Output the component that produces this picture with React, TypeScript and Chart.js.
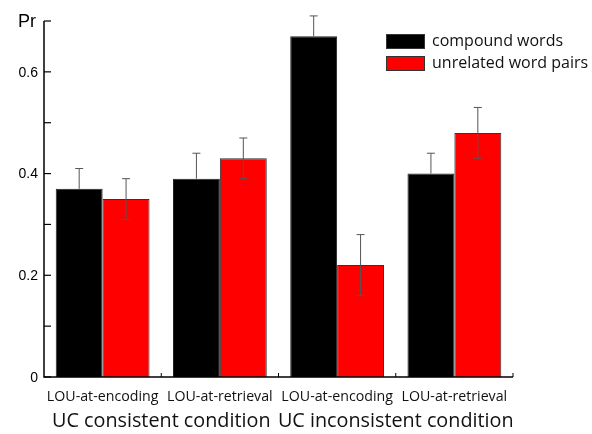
import React, { useEffect, useRef } from "react";
import { Chart, registerables } from "chart.js";

Chart.register(...registerables);

const categories = ["LOU-at-encoding", "LOU-at-retrieval", "LOU-at-encoding", "LOU-at-retrieval"];
const groupLabels = ["UC consistent condition", "UC inconsistent condition"];
const seriesNames = ["compound words", "unrelated word pairs"];
const compoundValues = [0.37, 0.39, 0.67, 0.40];
const compoundErrors = [0.04, 0.05, 0.04, 0.04];
const unrelatedValues = [0.35, 0.43, 0.22, 0.48];
const unrelatedErrors = [0.04, 0.04, 0.06, 0.05];
const yTickValues = [0, 0.1, 0.2, 0.3, 0.4, 0.5, 0.6, 0.7];
const yTickLabels = ["0", "", "0.2", "", "0.4", "", "0.6", ""];
const yTitle = "Pr";

const errorsByDataset = [compoundErrors, unrelatedErrors];
const TEXT_FONT = "'Open Sans', 'Noto Sans', sans-serif";

const customPlugin = {
  id: "custom",
  afterDatasetsDraw(chart: any) {
    const ctx = chart.ctx;
    const y = chart.scales.y;
    chart.data.datasets.forEach((ds: any, di: number) => {
      const meta = chart.getDatasetMeta(di);
      meta.data.forEach((bar: any, i: number) => {
        const v = ds.data[i];
        const e = errorsByDataset[di][i];
        const x = bar.x;
        const yTop = y.getPixelForValue(v + e);
        const yMid = y.getPixelForValue(v);
        const yBot = y.getPixelForValue(v - e);
        ctx.save();
        ctx.lineWidth = 1;
        ctx.strokeStyle = "#555";
        ctx.beginPath();
        ctx.moveTo(x, yMid);
        ctx.lineTo(x, yTop);
        ctx.moveTo(x - 4, yTop);
        ctx.lineTo(x + 4, yTop);
        ctx.stroke();
        if (di === 1) {
          ctx.beginPath();
          ctx.moveTo(x, yMid);
          ctx.lineTo(x, yBot);
          ctx.moveTo(x - 4, yBot);
          ctx.lineTo(x + 4, yBot);
          ctx.stroke();
        }
        ctx.restore();
      });
    });
  },
  afterDraw(chart: any) {
    const ctx = chart.ctx;
    const area = chart.chartArea;
    const y = chart.scales.y;
    const x = chart.scales.x;
    ctx.save();
    ctx.strokeStyle = "#000";
    ctx.lineWidth = 1.5;
    const y0 = y.getPixelForValue(0);
    const yMax = y.getPixelForValue(0.7);
    ctx.beginPath();
    ctx.moveTo(area.left, yMax);
    ctx.lineTo(area.left, y0);
    ctx.lineTo(area.right, y0);
    ctx.stroke();
    ctx.lineWidth = 1.2;
    ctx.fillStyle = "#000";
    ctx.font = "14px 'Liberation Sans', Arial, sans-serif";
    ctx.textAlign = "right";
    ctx.textBaseline = "middle";
    yTickValues.forEach((v, i) => {
      const py = y.getPixelForValue(v);
      ctx.beginPath();
      ctx.moveTo(area.left, py);
      ctx.lineTo(area.left + 7, py);
      ctx.stroke();
      if (yTickLabels[i]) ctx.fillText(yTickLabels[i], area.left - 6, py + 1);
    });
    ctx.font = "18px 'Liberation Sans', Arial, sans-serif";
    ctx.fillText(yTitle, area.left - 8, yMax + 1);
    const n = categories.length;
    const catW = (area.right - area.left) / n;
    ctx.lineWidth = 1;
    for (let i = 1; i <= n; i++) {
      const px = x.getPixelForValue(i - 1) + catW / 2;
      ctx.beginPath();
      ctx.moveTo(px, y0);
      ctx.lineTo(px, y0 - 4);
      ctx.stroke();
    }
    ctx.textAlign = "center";
    ctx.textBaseline = "middle";
    ctx.font = "14.2px " + TEXT_FONT;
    ctx.fillStyle = "#111";
    categories.forEach((c, i) => {
      ctx.fillText(c, x.getPixelForValue(i), 397);
    });
    ctx.font = "19.8px " + TEXT_FONT;
    groupLabels.forEach((g, gi) => {
      const cx = (x.getPixelForValue(gi * 2) + x.getPixelForValue(gi * 2 + 1)) / 2;
      ctx.fillText(g, cx, 421);
    });
    const colors = ["#000000", "#ff0000"];
    ctx.font = "16px " + TEXT_FONT;
    ctx.textAlign = "left";
    seriesNames.forEach((s, i) => {
      const ly = 34 + i * 22;
      ctx.fillStyle = colors[i];
      ctx.fillRect(386, ly, 39, 15);
      ctx.strokeStyle = "#333";
      ctx.lineWidth = 1;
      ctx.strokeRect(386.5, ly + 0.5, 38, 14);
      ctx.fillStyle = "#111";
      ctx.fillText(s, 432, ly + 7);
    });
    ctx.restore();
  },
};

export default function App() {
  const canvasRef = useRef<HTMLCanvasElement | null>(null);
  useEffect(() => {
    document.body.style.margin = "0";
    const canvas = canvasRef.current!;
    const chart = new Chart(canvas, {
      type: "bar",
      data: {
        labels: categories,
        datasets: [
          {
            label: seriesNames[0],
            data: compoundValues,
            backgroundColor: "#000000",
            borderColor: "#222",
            borderWidth: 1,
          },
          {
            label: seriesNames[1],
            data: unrelatedValues,
            backgroundColor: "#ff0000",
            borderColor: "#333",
            borderWidth: 1,
          },
        ],
      },
      options: {
        animation: false,
        responsive: false,
        maintainAspectRatio: false,
        devicePixelRatio: 1,
        layout: { padding: { left: 44, right: 79, top: 21, bottom: 57 } },
        datasets: { bar: { categoryPercentage: 0.8, barPercentage: 1 } },
        plugins: { legend: { display: false }, tooltip: { enabled: false } },
        scales: {
          x: { display: false },
          y: { display: false, min: 0, max: 0.7 },
        },
      },
      plugins: [customPlugin],
    });
    return () => chart.destroy();
  }, []);
  return (
    <div style={{ position: "absolute", left: 0, top: 0, width: 592, height: 434, background: "#fff" }}>
      <canvas ref={canvasRef} width={592} height={434} style={{ width: 592, height: 434 }} />
    </div>
  );
}
